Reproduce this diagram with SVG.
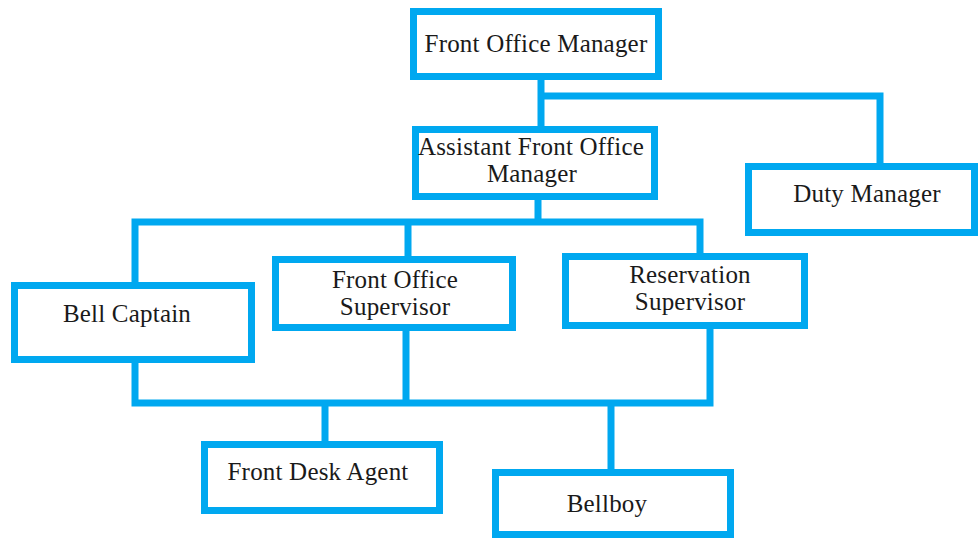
<svg xmlns="http://www.w3.org/2000/svg" width="978" height="539" viewBox="0 0 978 539">
<style>
.box{fill:#fff;stroke:#00A8F0;stroke-width:7}
.ln{fill:none;stroke:#00A8F0;stroke-width:7;stroke-linejoin:miter}
text{font-family:"Liberation Serif","Times New Roman",serif;font-size:25px;letter-spacing:0.2px;fill:#1a1a1a;text-anchor:middle}
</style>
<rect width="978" height="539" fill="#fff"/>
<g id="connectors">
<path class="ln" d="M541 79V128M541 96H880V164"/>
<path class="ln" d="M538 199V222M135 284V222H700V254M408 222V257"/>
<path class="ln" d="M135 362V403H710V329M406 331V403"/>
<path class="ln" d="M325 403V442M611 403V470"/>
</g>
<g id="front-office-manager">
<rect class="box" x="413.5" y="11.5" width="245" height="65"/>
<text x="536" y="52">Front Office Manager</text>
</g>
<g id="assistant-front-office-manager">
<rect class="box" x="415.5" y="129.5" width="239" height="67"/>
<text x="531" y="155">Assistant Front Office</text>
<text x="532" y="182">Manager</text>
</g>
<g id="duty-manager">
<rect class="box" x="748.5" y="166.5" width="226" height="66"/>
<text x="867" y="202">Duty Manager</text>
</g>
<g id="bell-captain">
<rect class="box" x="14.5" y="285.5" width="237" height="74"/>
<text x="127" y="322">Bell Captain</text>
</g>
<g id="front-office-supervisor">
<rect class="box" x="275.5" y="259.5" width="237" height="68"/>
<text x="395" y="288">Front Office</text>
<text x="395" y="315">Supervisor</text>
</g>
<g id="reservation-supervisor">
<rect class="box" x="565.5" y="256.5" width="239" height="69"/>
<text x="690" y="283">Reservation</text>
<text x="690" y="310">Supervisor</text>
</g>
<g id="front-desk-agent">
<rect class="box" x="204.5" y="444.5" width="235" height="66"/>
<text x="318" y="480">Front Desk Agent</text>
</g>
<g id="bellboy">
<rect class="box" x="495.5" y="472.5" width="235" height="62"/>
<text x="607" y="512">Bellboy</text>
</g>
</svg>
